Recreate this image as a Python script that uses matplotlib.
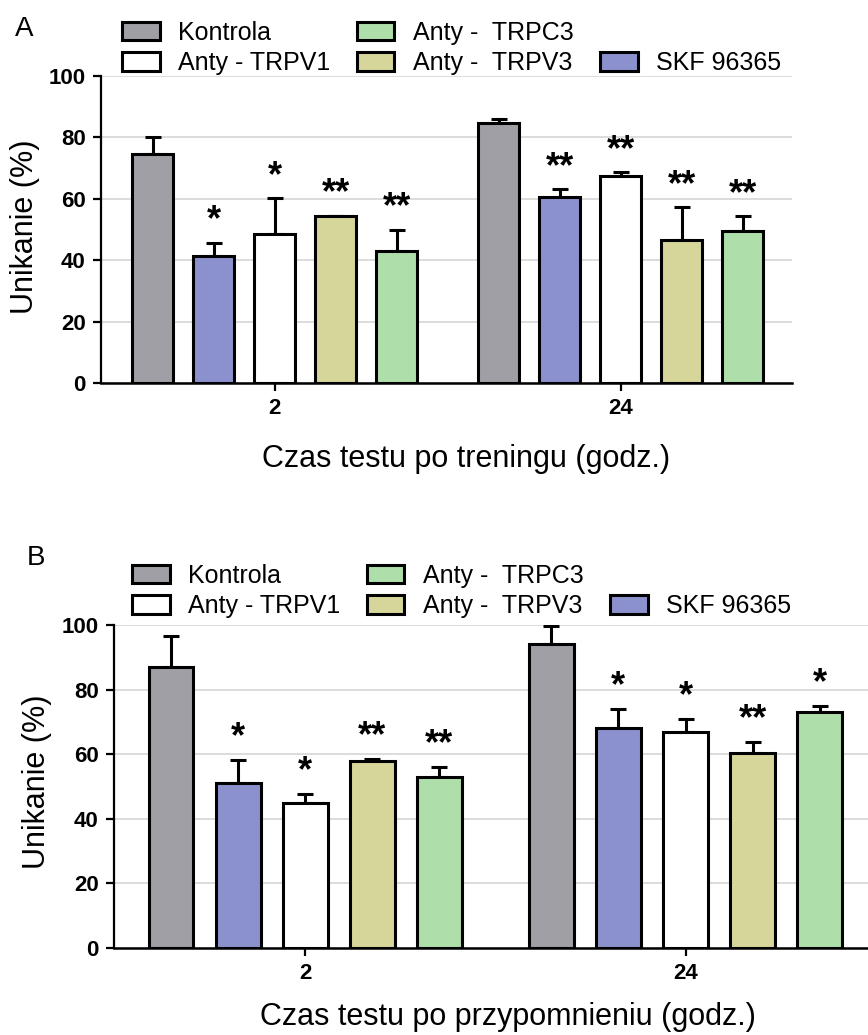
import matplotlib
matplotlib.use('Agg')
import matplotlib.pyplot as plt
import numpy as np
from matplotlib.patches import Patch

plt.rcParams['font.family'] = ['Liberation Sans', 'DejaVu Sans']

groups = ['2', '24']
series = ['Kontrola', 'SKF 96365', 'Anty - TRPV1', 'Anty -  TRPV3', 'Anty -  TRPC3']
colors = ['#a09fa5', '#8b91cd', '#ffffff', '#d6d69b', '#aedfab']

# panel A: test after training
means_a = {
    'Kontrola': [74.5, 84.6],
    'SKF 96365': [41.4, 60.7],
    'Anty - TRPV1': [48.5, 67.5],
    'Anty -  TRPV3': [54.5, 46.5],
    'Anty -  TRPC3': [43.1, 49.5],
}
errors_a = {
    'Kontrola': [5.5, 1.4],
    'SKF 96365': [4.3, 2.5],
    'Anty - TRPV1': [11.7, 1.1],
    'Anty -  TRPV3': [0.0, 10.7],
    'Anty -  TRPC3': [6.9, 4.8],
}
stars_a = {
    'Kontrola': ['', ''],
    'SKF 96365': ['*', '**'],
    'Anty - TRPV1': ['*', '**'],
    'Anty -  TRPV3': ['**', '**'],
    'Anty -  TRPC3': ['**', '**'],
}

# panel B: test after reminder
means_b = {
    'Kontrola': [87.1, 94.0],
    'SKF 96365': [51.0, 68.0],
    'Anty - TRPV1': [45.0, 67.0],
    'Anty -  TRPV3': [57.9, 60.3],
    'Anty -  TRPC3': [52.8, 73.2],
}
errors_b = {
    'Kontrola': [9.5, 5.7],
    'SKF 96365': [7.2, 5.9],
    'Anty - TRPV1': [2.6, 3.8],
    'Anty -  TRPV3': [0.5, 3.6],
    'Anty -  TRPC3': [3.1, 1.8],
}
stars_b = {
    'Kontrola': ['', ''],
    'SKF 96365': ['*', '*'],
    'Anty - TRPV1': ['*', '*'],
    'Anty -  TRPV3': ['**', '**'],
    'Anty -  TRPC3': ['**', '*'],
}

yticks = [0, 20, 40, 60, 80, 100]


def draw_panel(ax, means, errors, stars, xlabel):
    group_x = np.arange(len(groups)) * 5.67
    for i, name in enumerate(series):
        x = group_x + (i - 2)
        m = np.array(means[name])
        e = np.array(errors[name])
        ax.bar(x, m, width=0.67, color=colors[i], edgecolor='black', linewidth=2.2, zorder=3)
        ax.errorbar(x, m, yerr=[np.zeros_like(e), e], fmt='none', ecolor='black',
                    elinewidth=2.2, capsize=5.8, capthick=2.2, zorder=2)
        # significance marks above the error bars
        for xi, top, s in zip(x, m + e, stars[name]):
            if s:
                ax.text(xi, top + 4.0, s, ha='center', va='baseline', fontsize=26,
                        fontweight='bold', zorder=4)

    ax.set_ylim(0, 100)
    ax.set_xlim(-2.85, 8.48)
    ax.set_yticks(yticks)
    ax.set_xticks(group_x)
    ax.set_xticklabels(groups)
    ax.yaxis.grid(True, color='#d9d9d9', linewidth=1.3, zorder=0)
    ax.set_axisbelow(True)
    for side in ['top', 'right']:
        ax.spines[side].set_visible(False)
    ax.spines['left'].set_linewidth(1.6)
    ax.spines['bottom'].set_linewidth(1.8)
    ax.tick_params(axis='both', length=6, width=1.6, labelsize=16, pad=5)
    for lab in ax.get_xticklabels() + ax.get_yticklabels():
        lab.set_fontweight('bold')
    ax.set_ylabel('Unikanie (%)', fontsize=22)
    ax.set_xlabel(xlabel, fontsize=22, va='baseline')


def add_legend(fig, x, y):
    handles = {name: Patch(facecolor=colors[i], edgecolor='black', linewidth=2.2, label=name)
               for i, name in enumerate(series)}
    blank = Patch(facecolor='none', edgecolor='none', label='')
    order = [handles['Kontrola'], handles['Anty - TRPV1'], handles['Anty -  TRPC3'],
             handles['Anty -  TRPV3'], blank, handles['SKF 96365']]
    fig.legend(handles=order, labels=[h.get_label() for h in order], ncol=3,
               loc='upper left', bbox_to_anchor=(x, y), frameon=False, fontsize=18,
               handlelength=1.5, handleheight=0.75, handletextpad=0.75,
               columnspacing=1.05, labelspacing=0.25, borderpad=0, borderaxespad=0)


W, H = 868, 1035
fig = plt.figure(figsize=(W / 100, H / 100), dpi=100)

ax_a = fig.add_axes([101 / W, 1 - 383 / H, 691 / W, 307 / H])
draw_panel(ax_a, means_a, errors_a, stars_a, 'Czas testu po treningu (godz.)')
ax_a.yaxis.set_label_coords(-0.088, 0.51)
ax_a.xaxis.set_label_coords(0.529, -0.274)

ax_b = fig.add_axes([114 / W, 1 - 948 / H, 760 / W, 323 / H])
draw_panel(ax_b, means_b, errors_b, stars_b, 'Czas testu po przypomnieniu (godz.)')
ax_b.yaxis.set_label_coords(-0.082, 0.514)
ax_b.xaxis.set_label_coords(0.518, -0.237)

add_legend(fig, 122 / W, 1 - 21 / H)
add_legend(fig, 132 / W, 1 - 564 / H)

fig.text(15 / W, 1 - 16 / H, 'A', fontsize=20, va='top', ha='left')
fig.text(27 / W, 1 - 545 / H, 'B', fontsize=20, va='top', ha='left')

fig.savefig('out.png', dpi=100)
